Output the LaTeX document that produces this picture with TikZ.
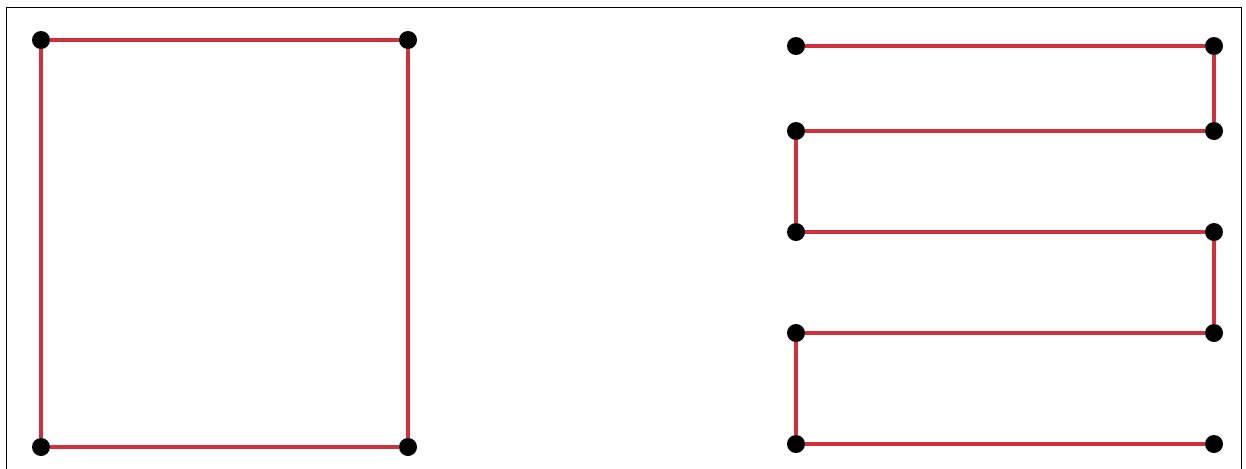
\documentclass[tikz,border=0pt]{standalone}
\usetikzlibrary{positioning}
\definecolor{wirered}{RGB}{208,48,60}
\tikzset{
  dot/.style={circle,fill=black,inner sep=0pt,minimum size=0.36cm},
  wire/.style={wirered,line width=0.08cm}
}
\begin{document}
\begin{tikzpicture}[x=0.02cm,y=-0.02cm]
  \useasboundingbox (0,0) rectangle (1246,468);
  \draw[line width=0.5pt] (6,480) -- (6,7) -- (1241,7) -- (1241,480);
  % left loop
  \node[dot] (a1) at (41,40) {}; \node[dot] (a2) at (408,40) {};
  \node[dot] (a3) at (408,447) {}; \node[dot] (a4) at (41,447) {};
  \draw[wire] (a1)--(a2)--(a3)--(a4)--(a1);
  % right zigzag
  \foreach \i/\y in {1/46,2/131,3/232,4/333,5/444} {
    \node[dot] (l\i) at (796,\y) {}; \node[dot] (r\i) at (1214,\y) {};
    \draw[wire] (l\i)--(r\i);
  }
  \draw[wire] (r1)--(r2); \draw[wire] (l2)--(l3);
  \draw[wire] (r3)--(r4); \draw[wire] (l4)--(l5);
\end{tikzpicture}
\end{document}
